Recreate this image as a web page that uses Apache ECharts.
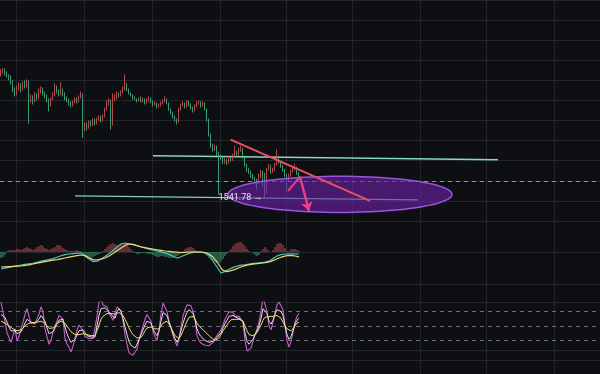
<!DOCTYPE html>
<html>
<head>
<meta charset="utf-8">
<script src="https://cdn.jsdelivr.net/npm/echarts@6/dist/echarts.min.js"></script>
<style>
html,body{margin:0;padding:0;background:#0e0f12;}
#chart{width:600px;height:374px;}
</style>
</head>
<body>
<div id="chart"></div>
<script>
// ---- category slots (bars), 300 slots across the view, 150 filled ----
const slots = Array.from({length: 300}, (_, i) => 'b' + i);

// ---- candles ----
const open = [1603,1604.5,1605,1603.5,1602.5,1601.5,1599.5,1595.5,1593,1596.5,
1597.5,1595.5,1598.5,1597,1599.5,1590.5,1591.5,1589.5,1592.5,1591.5,
1594.5,1595.5,1593.5,1592.5,1590.5,1587.5,1590.5,1592.5,1596.5,1594.5,
1593,1595.5,1593,1591,1590,1588.5,1587.5,1589,1590.5,1589.5,
1591.5,1593,1575.5,1578,1576.5,1579,1578,1580,1578.5,1580.5,
1581.5,1580,1582,1585.5,1588.5,1590,1578,1590.5,1592,1593,
1592.5,1594,1596,1597.5,1595.5,1593.5,1592.5,1591.5,1590.5,1590,
1591,1589.5,1590.5,1589,1590,1591,1589.5,1588,1588.5,1587,
1587.5,1588.5,1589.5,1590.5,1588.5,1585.5,1584,1582,1580.5,1579.5,
1585.5,1587.5,1588.5,1587,1589,1588,1586.5,1585,1587,1588.5,
1589,1587.5,1588.5,1585.5,1580.5,1573,1567.5,1565.5,1567,1563.5,
1562,1561.5,1559.5,1560.5,1559,1561.5,1560.5,1562.5,1564.5,1563,
1565.5,1566,1561.5,1558,1555.5,1554.5,1552.5,1551.5,1550.5,1549.5,
1552.5,1554.5,1553,1551.5,1555.5,1557.5,1554.5,1555.5,1558,1561.5,
1559.5,1557.5,1555.5,1553,1550.5,1552.5,1554.5,1555.5,1556.5,1554];
const close = [1604.5,1605,1603.5,1602.5,1601.5,1599.5,1595.5,1593,1596.5,1597.5,
1595.5,1598.5,1597,1599.5,1590.5,1591.5,1589.5,1592.5,1591.5,1594.5,
1595.5,1593.5,1592.5,1590.5,1587.5,1590.5,1592.5,1596.5,1594.5,1593,
1595.5,1593,1591,1590,1588.5,1587.5,1589,1590.5,1589.5,1591.5,
1593,1575.5,1578,1576.5,1579,1578,1580,1578.5,1580.5,1581.5,
1580,1582,1585.5,1588.5,1590,1578,1590.5,1592,1593,1592.5,
1594,1596,1597.5,1595.5,1593.5,1592.5,1591.5,1590.5,1590,1591,
1589.5,1590.5,1589,1590,1591,1589.5,1588,1588.5,1587,1587.5,
1588.5,1589.5,1590.5,1588.5,1585.5,1584,1582,1580.5,1579.5,1585.5,
1587.5,1588.5,1587,1589,1588,1586.5,1585,1587,1588.5,1589,
1587.5,1588.5,1585.5,1580.5,1573,1567.5,1565.5,1567,1563.5,1562,
1561.5,1559.5,1560.5,1559,1561.5,1560.5,1562.5,1564.5,1563,1565.5,
1566,1561.5,1558,1555.5,1554.5,1552.5,1551.5,1550.5,1549.5,1552.5,
1554.5,1553,1551.5,1555.5,1557.5,1554.5,1555.5,1558,1561.5,1559.5,
1557.5,1555.5,1553,1550.5,1552.5,1554.5,1555.5,1556.5,1554,1550];
const low = [1602,1603.5,1602.5,1601.5,1600,1598,1594,1592,1592.5,1595,
1594,1595,1596,1596.5,1578.5,1589,1588,1589,1590,1591,
1593.5,1592.5,1591,1589,1584.5,1587,1590,1592,1593.5,1592,
1592.5,1592,1590,1589,1587.5,1586.5,1587,1588.5,1588.5,1589,
1591,1571.5,1574.5,1575,1576,1577,1577.5,1577.5,1578,1580,
1579,1579.5,1581.5,1585,1587.5,1575.5,1577.5,1589.5,1590.5,1591.5,
1592,1593.5,1595,1594.5,1593,1592,1590.5,1590,1589,1589.5,
1589,1589,1588,1588.5,1589.5,1588.5,1587,1587.5,1586,1586.5,
1587,1588,1589,1588,1585,1583,1581,1579.5,1578,1579,
1585,1587,1586,1586.5,1587,1585.5,1584,1584.5,1586.5,1588,
1586.5,1587,1585,1579.5,1572,1566.5,1564.5,1565,1562.5,1543,
1560.5,1558.5,1558.5,1558,1558.5,1559.5,1560,1562,1562,1562.5,
1564.5,1561,1557,1554.5,1553.5,1551.5,1550.5,1549,1545.5,1548.5,
1551.5,1547,1541.78,1543.5,1555,1553.5,1554,1555,1557.5,1558.5,
1556.5,1554.5,1552,1544.5,1550,1552,1554,1555,1553,1549.5];
const high = [1605.5,1606,1606,1604.5,1603,1602.5,1600,1596.5,1597.5,1599,
1598.5,1599.5,1600,1600.5,1600,1593,1592.5,1594,1593.5,1596,
1597,1596.5,1594.5,1593,1591,1591.5,1594,1598.5,1597.5,1595.5,
1599,1596,1594,1592,1591,1589.5,1590,1591.5,1591.5,1592.5,
1594.5,1593.5,1579,1579,1580,1580,1581,1581,1581.5,1582.5,
1582.5,1583,1586.5,1590,1591,1590.5,1593.5,1593,1594.5,1594,
1595,1597,1603,1598.5,1596,1594,1593,1592,1591,1591.5,
1592,1591.5,1591,1591,1592,1591.5,1590,1589.5,1589,1588.5,
1589.5,1590.5,1592,1591,1589,1586,1584.5,1582.5,1581,1586.5,
1588.5,1589.5,1589,1590,1590,1588.5,1587,1588,1589.5,1590,
1589.5,1589.5,1589,1586,1581,1573.5,1568.5,1568,1567.5,1564.5,
1563,1562,1561.5,1561,1562.5,1562,1563.5,1567.5,1565,1566.5,
1567.5,1566.5,1562,1558.5,1556.5,1555,1553.5,1552,1551,1553.5,
1555.5,1555,1554,1556.5,1558.5,1558,1556.5,1559,1565.5,1562.5,
1560,1558,1556,1553.5,1553.5,1555.5,1556.5,1558.5,1557,1554.5];
const currentPrice = 1550;

// ---- MACD ----
const macdHist = [-3,-2.5,-1.5,0.5,1,1,1,1,1.5,1.5,
1,1.5,2,2.5,2,1.5,1,1.5,2.5,3,
3.5,3,2,1.5,1,1.5,2,2.5,3.5,3.5,
3,2,1.5,1,0.5,0.5,0.5,0.5,1,0.5,
0.5,-1,-2,-2.5,-3,-3,-2.5,-2,-1.5,-1,
-0.5,0.5,1.5,2.5,3.5,4,4.5,4,3.5,3.5,
4,4.5,4.5,3.5,2.5,1.5,0.5,-0.5,-1,-1,
-0.5,-0.5,-0.5,-1,-1,-1,-1.5,-2,-2.5,-2.5,
-2,-2,-2.5,-2.5,-3,-3,-3,-2.5,-2,-1.5,
-0.5,0.5,1.5,2,2.5,2.5,2,1,0.5,0,
0,-0.5,-1,-2,-3,-4,-4.5,-5,-5.5,-5.5,
-4.5,-3.5,-2,-1,0.5,1.5,3,4,4.5,5,
5,4,3,1.5,0.5,0,-0.5,-1.5,-2,-1.5,
0.5,1.5,2.5,1.5,0.5,0,1,2.5,4,4.5,
4.5,3.5,2,0.5,0.5,1.5,1.5,1.5,1,0.5];
const macdDif = [-8.5,-8.3,-8.1,-7.9,-7.7,-7.5,-7.3,-7.1,-6.9,-6.7,
-6.5,-6.4,-6.2,-6,-5.9,-5.8,-5.7,-5.5,-5.2,-4.9,
-4.6,-4.4,-4.2,-4,-3.8,-3.6,-3.3,-3,-2.6,-2.2,
-1.9,-1.6,-1.3,-1.1,-1,-0.9,-0.8,-0.7,-0.6,-0.5,
-0.5,-1,-2,-2.8,-3.5,-4.2,-4.8,-5,-4.6,-4,
-3.5,-3,-2.3,-1.6,-0.9,-0.2,0.6,1.5,2.5,3.3,
4,4.4,4.5,4.3,4.1,4,3.7,3.4,3.1,2.8,
2.5,2.2,2,1.7,1.4,1.1,0.9,0.7,0.5,0.3,
0.1,-0.1,-0.4,-0.8,-1.2,-1.6,-2.1,-2.6,-3,-2.9,
-2.4,-1.9,-1.5,-1.1,-0.7,-0.4,-0.2,-0.1,0,0,
-0.1,-0.2,-0.4,-0.6,-1.5,-3,-4.5,-6,-7.5,-9,
-10.5,-10.3,-9.8,-9.3,-8.6,-8,-7.7,-7.4,-7.1,-6.8,
-6.6,-6.5,-6.4,-6.2,-6,-5.8,-5.7,-5.6,-5.5,-5.4,
-5.3,-5.2,-5.1,-5,-4.6,-4,-3.3,-2.6,-2,-1.5,
-1.3,-1.1,-1,-1,-0.9,-0.9,-0.9,-1,-1,-1];
const macdDea = [-7.5,-7.5,-7.4,-7.4,-7.3,-7.3,-7.2,-7.1,-7.1,-7,
-7,-6.9,-6.7,-6.6,-6.4,-6.2,-6,-5.8,-5.6,-5.4,
-5.2,-5,-4.8,-4.6,-4.4,-4.3,-4.1,-4,-3.8,-3.6,
-3.4,-3.2,-3,-2.8,-2.6,-2.4,-2.2,-2,-1.8,-1.6,
-1.5,-1.5,-1.8,-2.3,-2.9,-3.4,-3.8,-4,-4,-3.8,
-3.6,-3.3,-3,-2.5,-2,-1.4,-0.8,-0.1,0.6,1.3,
2,2.7,3.3,3.8,4,4,3.8,3.5,3.2,2.9,
2.6,2.4,2.2,2,1.8,1.6,1.5,1.3,1.1,1,
0.8,0.7,0.5,0.4,0.3,0.2,0.1,0,-0.1,-0.2,
-0.3,-0.3,-0.2,-0.1,0,0,0,0,0,0,
0,-0.1,-0.3,-0.6,-1,-1.5,-2.5,-3.8,-5,-6.5,
-8,-9.2,-10,-9.8,-9.5,-9.3,-9,-8.7,-8.3,-7.9,
-7.5,-7.1,-6.8,-6.6,-6.4,-6.2,-6,-5.9,-5.8,-5.7,
-5.6,-5.5,-5.4,-5.2,-5,-4.7,-4.3,-3.9,-3.4,-3,
-2.6,-2.3,-2,-1.8,-1.7,-1.7,-1.8,-2,-2.2,-2.4];

// ---- KDJ ----
const kdjK = [74,76,68,58,48,40,38,40,34,33,
38,46,56,64,62,58,56,56,57,64,
72,72,60,46,34,32,38,46,54,62,
66,64,48,34,24,16,16,22,32,40,
44,42,36,30,28,27,27,27,50,72,
86,86,88,86,80,74,70,66,80,86,
80,66,48,32,18,10,6,4,12,22,
32,42,52,60,62,56,44,36,30,40,
60,78,82,72,58,46,34,24,16,24,
40,56,68,78,84,82,76,64,44,34,
28,24,20,18,16,15,18,22,26,30,
36,46,55,62,70,74,72,68,67,67,
64,59,36,18,12,14,22,32,40,50,
66,86,90,76,60,54,62,74,84,88,
80,72,50,32,22,28,40,54,62,66];
const kdjD = [60,58,56,53,50,47,44,41,40,40,
42,45,50,54,56,57,57,58,58,60,
60,60,56,50,45,44,46,50,55,58,
60,60,56,50,44,38,34,32,31,32,
34,34,34,32,31,30,30,30,40,52,
64,70,74,76,77,76,76,75,77,78,
78,72,64,56,46,38,32,28,25,24,
26,32,40,46,50,48,46,44,42,44,
50,56,60,60,54,46,38,30,26,24,
30,40,50,60,68,70,70,64,56,50,
46,42,38,34,30,26,22,20,21,25,
32,40,46,52,58,63,64,64,64,64,
64,60,50,40,32,30,30,32,36,44,
52,62,68,70,70,70,70,70,72,72,
66,58,50,44,40,40,44,50,56,58];
const kdjJ = [100,104,58,36,26,16,30,44,20,28,
45,58,74,86,70,56,54,55,57,75,
90,80,44,28,12,20,38,50,60,72,
76,64,24,12,6,-4,8,24,42,52,
50,40,28,26,24,24,24,24,70,100,
108,94,96,90,76,70,62,58,90,94,
82,60,32,12,-6,-10,-11,-12,2,20,
36,50,64,74,70,60,38,28,20,40,
75,98,98,80,60,46,30,18,8,24,
48,70,84,94,97,92,80,64,30,20,
14,12,10,8,9,10,16,24,30,36,
42,52,64,72,80,84,78,70,70,70,
64,58,20,-2,-2,4,18,32,44,58,
80,110,108,80,50,42,58,78,94,100,
92,84,50,20,6,18,36,58,70,76];
const kdjLevels = [20, 50, 80];

// ---- drawn annotations (bar position, price) ----
const resistanceLine = [[76, 1562.5], [248.5, 1560.5]];
const supportLine = [[37, 1542.5], [208.5, 1540.5]];
const trendLine = [[114.8, 1570.5], [184.5, 1540]];
const projection = [[143.5, 1545], [149.5, 1552], [154, 1535]];
const zone = [[169.5, 1543.25, 56, 9]]; // centre bar, centre price, half-width (bars), half-height (price)

// ---- build ----
const candles = open.map((o, i) => [o, close[i], low[i], high[i]]);
const vLineSlots = [8, 42, 76, 110, 143, 176, 210, 243, 277];
const GRIDC = '#22252a';

function catAxis(g) {
  return {
    type: 'category', gridIndex: g, data: slots, boundaryGap: true,
    axisLine: {show: false}, axisTick: {show: false}, axisLabel: {show: false},
    splitLine: {show: true, interval: (idx) => vLineSlots.indexOf(idx) >= 0,
      lineStyle: {color: GRIDC, width: 1}}
  };
}

const option = {
  backgroundColor: '#0e0f12',
  animation: false,
  grid: [
    {left: 0, right: 0, top: -1, height: 222},
    {left: 0, right: 0, top: 221, height: 81},
    {left: 0, right: 0, top: 302, height: 75}
  ],
  xAxis: [
    catAxis(0), catAxis(1), catAxis(2),
    {type: 'value', gridIndex: 0, min: -0.5, max: 299.5, show: false, splitLine: {show: false}}
  ],
  yAxis: [
    {type: 'value', gridIndex: 0, min: 1530, max: 1640, interval: 10,
      axisLine: {show: false}, axisTick: {show: false}, axisLabel: {show: false},
      splitLine: {lineStyle: {color: GRIDC}}},
    {type: 'value', gridIndex: 1, min: -25, max: 15.5,
      axisLine: {show: false}, axisTick: {show: false}, axisLabel: {show: false},
      splitLine: {show: false}},
    {type: 'value', gridIndex: 2, min: -50, max: 100,
      axisLine: {show: false}, axisTick: {show: false}, axisLabel: {show: false},
      splitLine: {show: false}}
  ],
  series: [
    {
      type: 'candlestick', xAxisIndex: 0, yAxisIndex: 0, data: candles, z: 2,
      barWidth: 1.2,
      itemStyle: {color: '#c24f57', color0: '#3fa97f', borderColor: '#c24f57', borderColor0: '#3fa97f', borderWidth: 0.9},
      markPoint: {
        z: 10, symbol: 'circle', symbolSize: 1,
        itemStyle: {color: 'rgba(0,0,0,0)'},
        label: {show: true, position: 'left', distance: 2, color: '#e2e2ee', fontSize: 9,
          fontFamily: 'Roboto, sans-serif',
          formatter: (p) => Number(p.value).toFixed(2) + ' →'},
        data: [{type: 'min', valueDim: 'lowest'}]
      }
    },
    {
      type: 'line', xAxisIndex: 3, yAxisIndex: 0, data: supportLine, z: 2,
      symbol: 'none', silent: true, lineStyle: {color: '#7fd3c4', width: 1.4},
      markLine: {
        silent: true, symbol: ['none', 'none'], z: 2, label: {show: false},
        data: [{yAxis: currentPrice, lineStyle: {color: '#46b5a3', type: [4, 4], width: 1, opacity: 1}}]
      }
    },
    {
      type: 'line', xAxisIndex: 3, yAxisIndex: 0, data: resistanceLine, z: 2,
      symbol: 'none', silent: true, lineStyle: {color: '#86d8c9', width: 1.5}
    },
    {
      type: 'custom', xAxisIndex: 3, yAxisIndex: 0, data: zone, z: 3, silent: true,
      encode: {x: 0, y: 1},
      renderItem: function (params, api) {
        const c = api.coord([api.value(0), api.value(1)]);
        const s = api.size([api.value(2), api.value(3)]);
        const pts = [];
        for (let k = 0; k < 96; k++) {
          const a = k / 96 * Math.PI * 2;
          pts.push([c[0] + s[0] * Math.cos(a), c[1] + s[1] * Math.sin(a)]);
        }
        return {type: 'polygon', shape: {points: pts},
          style: {fill: 'rgba(112,34,170,0.6)', stroke: '#9a55e0', lineWidth: 1.5}};
      }
    },
    {
      type: 'line', xAxisIndex: 3, yAxisIndex: 0, data: trendLine, z: 4,
      symbol: 'none', silent: true, lineStyle: {color: '#ef4f63', width: 2}
    },
    {
      type: 'line', xAxisIndex: 3, yAxisIndex: 0, data: projection, z: 4,
      symbol: 'none', silent: true, lineStyle: {color: '#e8418a', width: 2},
      markLine: {
        silent: true, z: 4, symbol: ['none', 'arrow'], symbolSize: 9, label: {show: false},
        lineStyle: {color: '#e8418a', width: 2, type: 'solid'},
        data: [[{coord: projection[1]}, {coord: projection[2]}]]
      }
    },
    {
      type: 'bar', xAxisIndex: 1, yAxisIndex: 1, data: macdHist, barWidth: 1, z: 2,
      itemStyle: {color: (p) => p.value >= 0 ? '#bb4a55' : '#3f9f78'},
      markLine: {
        silent: true, symbol: ['none', 'none'], label: {show: false}, z: 1,
        lineStyle: {color: GRIDC, type: 'solid', width: 1},
        data: [{yAxis: 0}, {yAxis: -16}]
      }
    },
    {
      type: 'line', xAxisIndex: 1, yAxisIndex: 1, data: macdDif, symbol: 'none', z: 3,
      lineStyle: {color: '#4fc6b2', width: 1.2}
    },
    {
      type: 'line', xAxisIndex: 1, yAxisIndex: 1, data: macdDea, symbol: 'none', z: 3,
      lineStyle: {color: '#e8d777', width: 1.2}
    },
    {
      type: 'line', xAxisIndex: 2, yAxisIndex: 2, data: kdjJ, symbol: 'none', z: 3,
      lineStyle: {color: '#c85ec8', width: 1.1},
      markLine: {
        silent: true, symbol: ['none', 'none'], label: {show: false}, z: 1,
        data: [
          {yAxis: 100, lineStyle: {color: GRIDC, type: 'solid', width: 1}},
          {yAxis: 0, lineStyle: {color: GRIDC, type: 'solid', width: 1}},
          {yAxis: -22, lineStyle: {color: GRIDC, type: 'solid', width: 1}}
        ].concat(kdjLevels.map(v => ({yAxis: v, lineStyle: {color: '#6c6f75', type: [4, 4], width: 1}})))
      }
    },
    {
      type: 'line', xAxisIndex: 2, yAxisIndex: 2, data: kdjK, symbol: 'none', z: 3,
      lineStyle: {color: '#e6dde6', width: 1}
    },
    {
      type: 'line', xAxisIndex: 2, yAxisIndex: 2, data: kdjD, symbol: 'none', z: 3,
      lineStyle: {color: '#e6de78', width: 1}
    }
  ]
};

const chart = echarts.init(document.getElementById('chart'), null, {renderer: 'canvas'});
chart.setOption(option);
</script>
</body>
</html>
